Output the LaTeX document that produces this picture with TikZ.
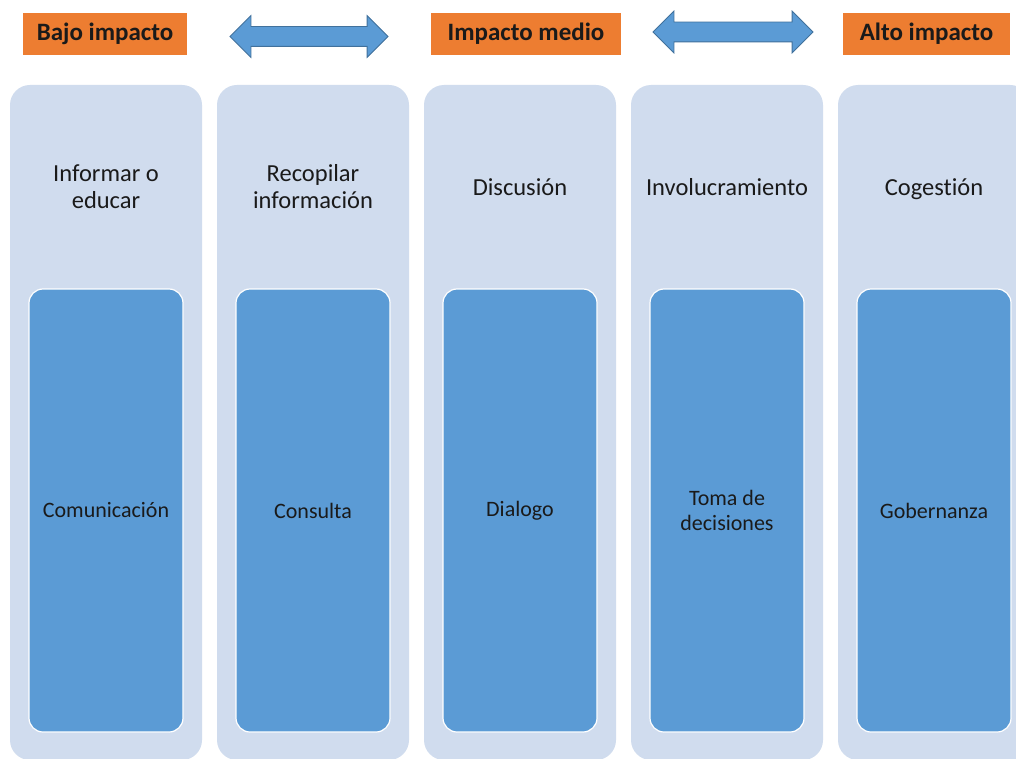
\documentclass[tikz,border=0pt]{standalone}
\usepackage{fontspec}
\setmainfont{Carlito}[Ligatures=NoCommon]
\usetikzlibrary{shapes.arrows}
\definecolor{orng}{HTML}{ED7D31}
\definecolor{lightcol}{HTML}{D0DCEE}
\definecolor{midblue}{HTML}{5B9BD5}
\definecolor{arrowedge}{HTML}{41719C}
\definecolor{txt}{HTML}{1A1A1A}
\begin{document}
\begin{tikzpicture}[x=1pt,y=-1pt,
  label/.style={fill=orng, minimum height=42pt, inner sep=0pt, text=txt,
    font=\fontsize{25}{27}\selectfont\bfseries},
  outerbox/.style={fill=lightcol, rounded corners=20pt, minimum width=192pt,
    minimum height=675pt, inner sep=0pt},
  innerbox/.style={fill=midblue, draw=white, line width=1.2pt, rounded corners=14pt,
    minimum width=154pt, minimum height=443pt, inner sep=0pt, align=center,
    text=txt, font=\fontsize{22}{25}\selectfont},
  header/.style={align=center, text=txt, inner sep=0pt,
    font=\fontsize{24.5}{27}\selectfont},
  dblarrow/.style={double arrow, fill=midblue, draw=arrowedge, line width=0.8pt,
    minimum height=158pt, double arrow head extend=11pt,
    double arrow tip angle=90, inner xsep=0pt, inner ysep=9.5pt}
]
\useasboundingbox (0,0) rectangle (1016,759);
\clip (0,0) rectangle (1016,759);
\fill[white] (0,0) rectangle (1016,759);

% labels
\node[label, minimum width=164pt] (bajo) at (105,34) {Bajo impacto};
\node[label, minimum width=190pt] (medio) at (526,34) {Impacto medio};
\node[label, minimum width=167pt] (alto) at (926.5,34) {Alto impacto};

% arrows
\node[dblarrow] (a1) at (309,36.5) {};
\node[dblarrow, minimum height=160pt] (a2) at (733,32) {};

% columns
\foreach \i/\x in {1/106,2/313,3/520,4/727,5/934}{
  \node[outerbox] (col\i) at (\x,422.5) {};
}
\node[header] (h1) at (106,187) {Informar o\\educar};
\node[header] (h2) at (313,187) {Recopilar\\información};
\node[header] (h3) at (520,187) {Discusión};
\node[header] (h4) at (727,187) {Involucramiento};
\node[header] (h5) at (934,189) {Cogestión};

\node[innerbox] (i1) at (106,510.5) {Comunicación};
\node[innerbox] (i2) at (313,510.5) {Consulta};
\node[innerbox] (i3) at (520,510.5) {Dialogo};
\node[innerbox] (i4) at (727,510.5) {Toma de\\decisiones};
\node[innerbox] (i5) at (934,510.5) {Gobernanza};
\end{tikzpicture}
\end{document}
